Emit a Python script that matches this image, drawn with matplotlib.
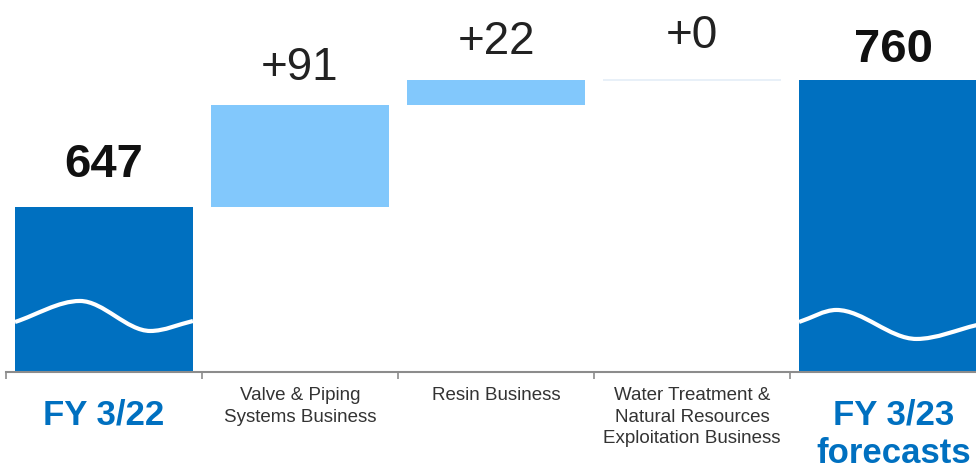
import matplotlib
matplotlib.use("Agg")
import matplotlib.pyplot as plt
from matplotlib.path import Path
from matplotlib.patches import PathPatch
import numpy as np

plt.rcParams['font.family'] = ['Liberation Sans', 'DejaVu Sans']

# data
categories = [
    "FY 3/22",
    "Valve & Piping\nSystems Business",
    "Resin Business",
    "Water Treatment &\nNatural Resources\nExploitation Business",
    "FY 3/23\nforecasts",
]
start_value = 647
changes = [91, 22, 0]
end_value = 760
change_labels = ["+91", "+22", "+0"]
axis_floor = 500   # value axis does not start at zero

# styling
DARK = "#0070C0"
LIGHT = "#82C8FC"
ZERO_LINE = "#E4EEF7"
TEXT = "#222222"
BAR_W = 0.908

# wave decoration on the total bars: (fraction across bar, height above floor)
wave_start = [(0.0, 44.5), (0.365, 63.2), (0.76, 36.5), (1.0, 45.4)]
wave_end = [(0.0, 44.5), (0.21, 55.2), (0.66, 29.4), (1.0, 41.8)]

# label gap above bar top, in pixels
label_gap = [30, 25, 26, 32, 18]

# waterfall geometry
bottoms = [axis_floor]
heights = [start_value - axis_floor]
running = start_value
for c in changes:
    bottoms.append(running)
    heights.append(c)
    running += c
bottoms.append(axis_floor)
heights.append(end_value - axis_floor)
colors = [DARK] + [LIGHT] * len(changes) + [DARK]
value_labels = [str(start_value)] + change_labels + [str(end_value)]
x = np.arange(len(categories))
last = len(categories) - 1

fig = plt.figure(figsize=(9.76, 4.68), dpi=100)
ax = fig.add_axes([6 / 976, 96 / 468, 980 / 976, 372 / 468])

bars = ax.bar(x, heights, bottom=bottoms, width=BAR_W, color=colors, zorder=2)
for i, h in enumerate(heights):
    if h == 0:
        ax.hlines(bottoms[i], x[i] - BAR_W / 2, x[i] + BAR_W / 2,
                  color=ZERO_LINE, lw=1.2, zorder=2)


def wave_path(x0, x1, pts):
    xs = x0 + (x1 - x0) * np.array([p[0] for p in pts])
    ys = axis_floor + np.array([p[1] for p in pts])
    n = len(xs)
    m = np.zeros(n)
    m[0] = (ys[1] - ys[0]) / (xs[1] - xs[0])
    m[-1] = (ys[-1] - ys[-2]) / (xs[-1] - xs[-2])
    verts = [(xs[0], ys[0])]
    codes = [Path.MOVETO]
    for k in range(n - 1):
        dx = xs[k + 1] - xs[k]
        verts += [(xs[k] + dx / 3, ys[k] + m[k] * dx / 3),
                  (xs[k + 1] - dx / 3, ys[k + 1] - m[k + 1] * dx / 3),
                  (xs[k + 1], ys[k + 1])]
        codes += [Path.CURVE4] * 3
    return Path(verts, codes)


for idx, pts in [(0, wave_start), (last, wave_end)]:
    b = bars[idx]
    p = PathPatch(wave_path(b.get_x(), b.get_x() + b.get_width(), pts),
                  fill=False, edgecolor="white", lw=3, zorder=3)
    ax.add_patch(p)
    p.set_clip_path(b)

# value labels
for i, lab in enumerate(value_labels):
    top = bottoms[i] + heights[i]
    bold = i in (0, last)
    dx = 4 if i == last else 0
    ax.annotate(lab, xy=(x[i], top), xytext=(dx, label_gap[i] * 0.72),
                textcoords="offset points", ha="center", va="baseline",
                fontsize=34 if bold else 33,
                fontweight="bold" if bold else "normal",
                color="#111111" if bold else TEXT, annotation_clip=False)

# category labels
for i, cat in enumerate(categories):
    if i in (0, last):
        dx = 4 if i == last else 0
        ax.annotate(cat, xy=(x[i], 0), xycoords=("data", "axes fraction"),
                    xytext=(dx, -19), textcoords="offset points",
                    ha="center", va="top", fontsize=25, fontweight="bold",
                    color=DARK, linespacing=1.2, annotation_clip=False)
    else:
        ax.annotate(cat, xy=(x[i], 0), xycoords=("data", "axes fraction"),
                    xytext=(0, -10.5), textcoords="offset points",
                    ha="center", va="top", fontsize=13.5,
                    color="#333333", linespacing=1.38, annotation_clip=False)

ax.set_xlim(-0.5, len(categories) - 0.5)
ax.set_ylim(axis_floor, 831)
for s in ["top", "left", "right"]:
    ax.spines[s].set_visible(False)
ax.spines["bottom"].set_color("#8C8C8C")
ax.spines["bottom"].set_linewidth(1.5)
ax.spines["bottom"].set_zorder(4)
ax.set_yticks([])
ax.set_xticks([])
ax.set_xticks(np.arange(-0.5, len(categories)), minor=True)
ax.tick_params(axis="x", which="minor", length=5, width=1.2, color="#8C8C8C",
               direction="out")

fig.savefig("out.png", dpi=100)
